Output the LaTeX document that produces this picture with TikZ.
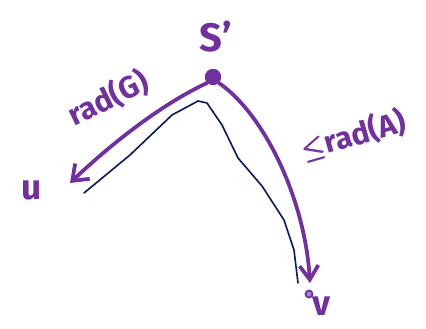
\documentclass[tikz,border=0pt]{standalone}
\usepackage{fontspec}
\usepackage{amsmath}
\setmainfont{Fira Sans}
\usetikzlibrary{arrows.meta}
\definecolor{inkpurple}{HTML}{7030A0}
\definecolor{inknavy}{HTML}{0B1E5B}
\begin{document}
\begin{tikzpicture}[x=0.03cm,y=-0.03cm,
    ink/.style={draw=inkpurple,line width=3.2pt,line cap=round,line join=round},
    pen/.style={draw=inknavy,line width=1.4pt,line cap=round,line join=round},
    lbl/.style={text=inkpurple,inner sep=0pt}]
    \useasboundingbox[fill=white] (0,0) rectangle (426,328);

    \node [circle,fill=inkpurple,inner sep=0pt,minimum size=14] (sdot) at (213,77) {};
    \node [lbl,font=\bfseries\fontsize{34}{34}\selectfont] (slabel) at (216,37) {S'};
    \node [lbl,font=\bfseries\fontsize{30}{30}\selectfont] (u) at (32,190) {u};
    \node [lbl,font=\bfseries\fontsize{30}{30}\selectfont] (v) at (322,306) {v};
    \node [lbl,font=\bfseries\fontsize{26}{26}\selectfont,rotate=26] (radg) at (108,98) {rad(G)};
    \node [lbl,font=\bfseries\fontsize{26}{26}\selectfont,rotate=16] (rada) at (354,135) {$\pmb{\leq}$rad(A)};
    \node [circle,draw=inkpurple,fill=inkpurple!60,line width=1.5pt,inner sep=0pt,minimum size=6] (vdot) at (309,294) {};

    \coordinate (uend) at (70,183);
    \coordinate (vend) at (310,283);
    \draw [ink,-{Straight Barb[length=12pt,width=18pt]}] (sdot.south west) .. controls (160,105) and (110,145) .. (uend);
    \draw [ink,-{Straight Barb[length=12pt,width=16pt]}] (sdot.south east) .. controls (265,115) and (305,200) .. (vend);

    \coordinate (nstart) at (84,193);
    \coordinate (nend) at (298,283);
    \draw [pen] (nstart) -- (130,155) -- (172,115) -- (198,101) -- (207,103) -- (222,125) -- (238,158) -- (262,186) -- (284,220) -- (294,250) -- (nend);
\end{tikzpicture}
\end{document}
